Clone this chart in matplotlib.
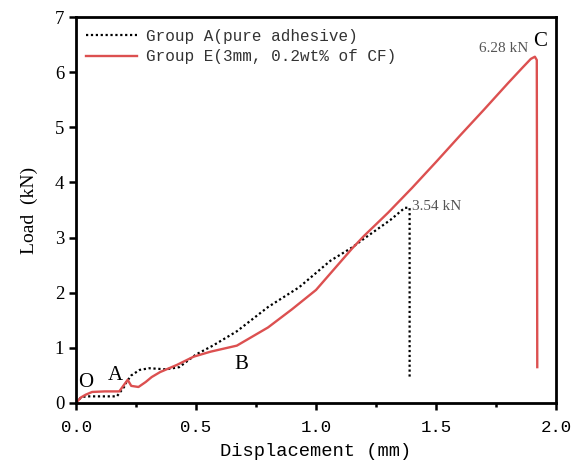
import matplotlib
matplotlib.use("Agg")
import matplotlib.pyplot as plt
from matplotlib.ticker import MultipleLocator

# Group A (pure adhesive) - dotted black
a_x = [0.0, 0.02, 0.04, 0.10, 0.17, 0.20, 0.21, 0.23, 0.265, 0.305, 0.375, 0.43,
       0.50, 0.57, 0.67, 0.80, 0.93, 1.06, 1.15, 1.20, 1.31, 1.37, 1.39, 1.39]
a_y = [0.0, 0.10, 0.12, 0.12, 0.12, 0.29, 0.38, 0.50, 0.60, 0.63, 0.61, 0.65,
       0.88, 1.04, 1.30, 1.74, 2.10, 2.58, 2.82, 2.98, 3.32, 3.54, 3.54, 0.47]

# Group E (3mm, 0.2wt% of CF) - red solid
e_x = [0.0, 0.02, 0.04, 0.067, 0.12, 0.18, 0.19, 0.215, 0.23, 0.26, 0.29, 0.315,
       0.35, 0.42, 0.49, 0.56, 0.67, 0.80, 0.90, 1.00, 1.10, 1.15, 1.20, 1.30,
       1.40, 1.50, 1.60, 1.70, 1.80, 1.86, 1.895, 1.912, 1.92, 1.922]
e_y = [0.0, 0.10, 0.15, 0.20, 0.21, 0.21, 0.27, 0.42, 0.31, 0.29, 0.38, 0.47,
       0.56, 0.69, 0.84, 0.93, 1.04, 1.37, 1.70, 2.05, 2.55, 2.80, 3.03, 3.45,
       3.90, 4.37, 4.85, 5.32, 5.80, 6.08, 6.24, 6.28, 6.22, 0.65]

x_ticks = [0.0, 0.5, 1.0, 1.5, 2.0]
y_ticks = [0, 1, 2, 3, 4, 5, 6, 7]

mono = "Liberation Mono"
serif = "Liberation Serif"

fig = plt.figure(figsize=(5.72, 4.70), dpi=100)
ax = fig.add_axes([0.133, 0.1426, 0.839, 0.8212])

ax.plot(a_x, a_y, color="black", linestyle=(0, (1, 1.2)), linewidth=1.6,
        label="Group A(pure adhesive)")
ax.plot(e_x, e_y, color="#dc5050", linewidth=1.7,
        label="Group E(3mm, 0.2wt% of CF)")

ax.set_xlim(0, 2.0)
ax.set_ylim(0, 7)
ax.set_xticks(x_ticks)
ax.set_xticklabels([f"{v:.1f}" for v in x_ticks], fontfamily=mono, fontsize=12.5)
ax.set_yticks(y_ticks)
ax.set_yticklabels([str(v) for v in y_ticks], fontfamily=serif, fontsize=13.5)
ax.xaxis.set_minor_locator(MultipleLocator(0.25))
ax.tick_params(axis="both", which="major", direction="out", length=5, width=1.8)
ax.tick_params(axis="x", which="major", pad=7)
ax.tick_params(axis="x", which="minor", direction="out", length=3, width=1.8)
for s in ax.spines.values():
    s.set_linewidth(2.0)

ax.set_xlabel("Displacement (mm)", fontfamily=mono, fontsize=13.5, labelpad=6)
ax.set_ylabel("Load  (kN)", fontfamily=serif, fontsize=14, labelpad=12)

leg = ax.legend(loc="upper left", frameon=False, prop={"family": mono, "size": 11.5},
                handlelength=3.2, handletextpad=0.6, borderaxespad=0.2,
                labelspacing=0.35, bbox_to_anchor=(0.0, 0.995))
for t in leg.get_texts():
    t.set_color("#333333")

ax.text(0.04, 0.37, "O", fontfamily=serif, fontsize=15, ha="center", va="center")
ax.text(0.165, 0.50, "A", fontfamily=serif, fontsize=15, ha="center", va="center")
ax.text(0.69, 0.70, "B", fontfamily=serif, fontsize=15, ha="center", va="center")
ax.text(1.935, 6.55, "C", fontfamily=serif, fontsize=15, ha="center", va="center")
ax.text(1.885, 6.42, "6.28 kN", fontfamily=serif, fontsize=11, color="#555555",
        ha="right", va="center")
ax.text(1.40, 3.56, "3.54 kN", fontfamily=serif, fontsize=11, color="#555555",
        ha="left", va="center")

fig.savefig("out.png", dpi=100)
